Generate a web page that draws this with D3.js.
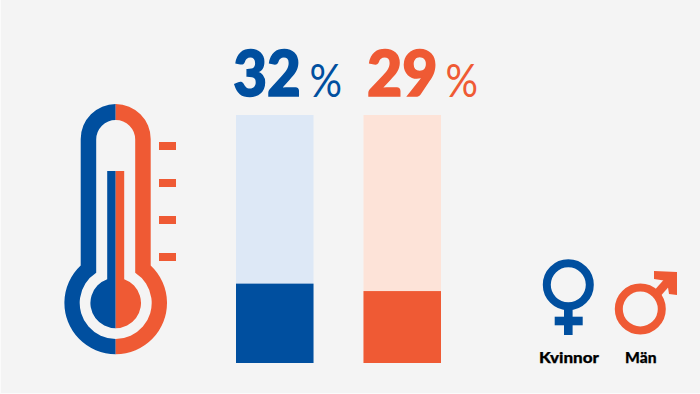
<!DOCTYPE html>
<html>
<head>
<meta charset="utf-8">
<script src="https://cdn.jsdelivr.net/npm/d3@7"></script>
<style>
  html, body { margin: 0; padding: 0; background: #f4f4f4; }
  text { font-family: "Lato", sans-serif; }
</style>
</head>
<body>
<div id="chart"></div>
<script>
const categories = ["Kvinnor", "Män"];
const values = [32, 29];
const seriesColors = ["#004f9f", "#ef5a34"];
const trackColors = ["#dde8f6", "#fde3d8"];
const thermoTicks = [146, 183, 220, 257];

const width = 700, height = 394;

const svg = d3.select("#chart").append("svg")
  .attr("width", width)
  .attr("height", height)
  .style("display", "block");

svg.append("rect").attr("width", width).attr("height", height).attr("fill", "#f4f4f4");

// thin lighter edge along the left and bottom of the original
svg.append("rect").attr("x", 0).attr("y", 0).attr("width", 1).attr("height", height).attr("fill", "#fbfbfb");
svg.append("rect").attr("x", 0).attr("y", height - 1).attr("width", width).attr("height", 1).attr("fill", "#fbfbfb");

const xScale = d3.scaleBand().domain(categories).range([236, 441]).paddingInner(0.392);
const yScale = d3.scaleLinear().domain([0, 100]).range([363, 115]);

// bars
const bars = svg.selectAll(".bar").data(categories).enter().append("g").attr("class", "bar");

bars.append("rect")
  .attr("x", d => xScale(d))
  .attr("y", yScale(100))
  .attr("width", xScale.bandwidth())
  .attr("height", yScale(0) - yScale(100))
  .attr("fill", (d, i) => trackColors[i]);

bars.append("rect")
  .attr("x", d => xScale(d))
  .attr("y", (d, i) => yScale(values[i]))
  .attr("width", xScale.bandwidth())
  .attr("height", (d, i) => yScale(0) - yScale(values[i]))
  .attr("fill", (d, i) => seriesColors[i]);

// value labels, stroked a bit since the heaviest Lato is still lighter than the original
bars.append("text")
  .attr("x", (d, i) => [233.2, 367][i])
  .attr("y", 96)
  .attr("font-size", 62)
  .attr("font-weight", 900)
  .attr("fill", (d, i) => seriesColors[i])
  .attr("stroke", (d, i) => seriesColors[i])
  .attr("stroke-width", 1.6)
  .attr("textLength", (d, i) => [67.5, 70.5][i])
  .attr("lengthAdjust", "spacingAndGlyphs")
  .text((d, i) => values[i]);

bars.append("text")
  .attr("x", (d, i) => [309.5, 445.5][i])
  .attr("y", 96.7)
  .attr("font-size", 46)
  .attr("fill", (d, i) => seriesColors[i])
  .attr("textLength", 32.5)
  .attr("lengthAdjust", "spacingAndGlyphs")
  .text("%");

// thermometer
const thermo = svg.append("g");
const cx = 115.7;

function thermoShape(rTube, rBulb, topY, bulbY) {
  const p = d3.path();
  const a = Math.asin(rTube / rBulb);
  const join = bulbY - rBulb * Math.cos(a);
  p.moveTo(cx - rTube, join);
  p.lineTo(cx - rTube, topY + rTube);
  p.arc(cx, topY + rTube, rTube, Math.PI, 0);
  p.lineTo(cx + rTube, join);
  p.arc(cx, bulbY, rBulb, -Math.PI / 2 + a, -Math.PI / 2 - a + 2 * Math.PI);
  p.closePath();
  return p.toString();
}

function stemShape(rTube, rBulb, topY, bulbY) {
  const p = d3.path();
  const a = Math.asin(rTube / rBulb);
  p.moveTo(cx - rTube, topY);
  p.lineTo(cx + rTube, topY);
  p.lineTo(cx + rTube, bulbY - rBulb * Math.cos(a));
  p.arc(cx, bulbY, rBulb, -Math.PI / 2 + a, -Math.PI / 2 - a + 2 * Math.PI);
  p.closePath();
  return p.toString();
}

const defs = svg.append("defs");
defs.append("clipPath").attr("id", "left-half").append("rect").attr("x", 0).attr("y", 0).attr("width", cx).attr("height", height);
defs.append("clipPath").attr("id", "right-half").append("rect").attr("x", cx).attr("y", 0).attr("width", width - cx).attr("height", height);

// outer shell in both halves, hole on top, then the mercury
thermo.append("g").attr("clip-path", "url(#left-half)").append("path")
  .attr("d", thermoShape(35, 51.3, 104, 303)).attr("fill", seriesColors[0]);
thermo.append("g").attr("clip-path", "url(#right-half)").append("path")
  .attr("d", thermoShape(35, 51.3, 104, 303)).attr("fill", seriesColors[1]);
thermo.append("path").attr("d", thermoShape(19.5, 36, 120, 303)).attr("fill", "#f4f4f4");

thermo.append("g").attr("clip-path", "url(#left-half)").append("path")
  .attr("d", stemShape(8.5, 25.3, 171, 303)).attr("fill", seriesColors[0]);
thermo.append("g").attr("clip-path", "url(#right-half)").append("path")
  .attr("d", stemShape(8.5, 25.3, 171, 303)).attr("fill", seriesColors[1]);

thermo.selectAll(".tick").data(thermoTicks).enter().append("rect")
  .attr("class", "tick")
  .attr("x", 159)
  .attr("y", d => d - 4)
  .attr("width", 17)
  .attr("height", 8)
  .attr("fill", seriesColors[1]);

// female symbol
const female = svg.append("g");
female.append("circle").attr("cx", 568.3).attr("cy", 284.8).attr("r", 21.5)
  .attr("fill", "none").attr("stroke", seriesColors[0]).attr("stroke-width", 8);
female.append("rect").attr("x", 564).attr("y", 309).attr("width", 8.6).attr("height", 26).attr("fill", seriesColors[0]);
female.append("rect").attr("x", 554.7).attr("y", 316.7).attr("width", 28).attr("height", 8.6).attr("fill", seriesColors[0]);

// male symbol
const male = svg.append("g");
male.append("circle").attr("cx", 640.3).attr("cy", 309).attr("r", 21.5)
  .attr("fill", "none").attr("stroke", seriesColors[1]).attr("stroke-width", 8);
male.append("line").attr("x1", 655).attr("y1", 296).attr("x2", 670).attr("y2", 279)
  .attr("stroke", seriesColors[1]).attr("stroke-width", 8.5);
male.append("polygon").attr("points", "654,271 677,272 677,295 669,294 667,281 654,279").attr("fill", seriesColors[1]);

// legend labels
svg.selectAll(".legend").data(categories).enter().append("text")
  .attr("class", "legend")
  .attr("x", (d, i) => [539, 625][i])
  .attr("y", 362.7)
  .attr("font-size", 15)
  .attr("font-weight", 900)
  .attr("fill", "#000")
  .attr("stroke", "#000")
  .attr("stroke-width", 0.25)
  .attr("textLength", (d, i) => [60, 31.5][i])
  .attr("lengthAdjust", "spacingAndGlyphs")
  .text(d => d);
</script>
</body>
</html>
